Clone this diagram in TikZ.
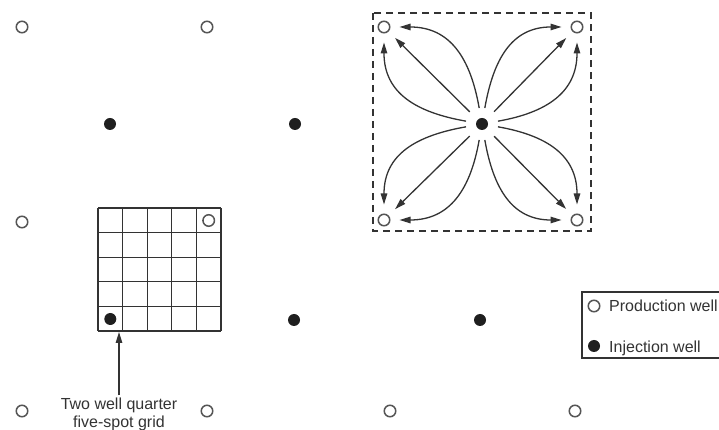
\documentclass[tikz,border=0pt]{standalone}
\usepackage{fontspec}
\setmainfont{Liberation Sans}
\usetikzlibrary{arrows.meta}
\definecolor{ink}{HTML}{333333}
\definecolor{rim}{HTML}{555555}
\tikzset{
  prod/.style={circle, draw=rim, line width=1.5pt, fill=white, minimum size=11.5pt, inner sep=0pt},
  inj/.style={circle, fill=black!88, minimum size=12pt, inner sep=0pt},
  flow/.style={draw=ink, line width=1.3pt, -{Triangle[length=11pt,width=6.5pt]}, shorten >=9pt},
  lbl/.style={text=ink, font=\fontsize{16}{18}\selectfont, inner sep=0pt},
  gridline/.style={draw=ink, line width=1.3pt}
}
\begin{document}
\begin{tikzpicture}[x=1pt,y=1pt]
\useasboundingbox (0,0) rectangle (719,430);
% production wells
\node[prod] (p11) at (22,403) {};
\node[prod] (p12) at (207,403) {};
\node[prod] (p21) at (22,208) {};
\node[prod] (p31) at (22,19) {};
\node[prod] (p32) at (207,19) {};
\node[prod] (p33) at (390,19) {};
\node[prod] (p34) at (575,19) {};
% injection wells
\node[inj] (i11) at (110,306) {};
\node[inj] (i12) at (295,306) {};
\node[inj] (i22) at (294,110) {};
\node[inj] (i23) at (480,110) {};
% five-spot pattern
\node[inj] (C) at (482,306) {};
\node[prod] (TL) at (384,403) {};
\node[prod] (TR) at (577,403) {};
\node[prod] (BL) at (384,210) {};
\node[prod] (BR) at (577,210) {};
\draw[draw=ink, line width=1.2pt, dash pattern=on 7pt off 5pt] (373,417) rectangle (591,199);
\foreach \k/\a/\b/\c/\d in {TL/100/0/170/270, TR/80/180/10/270, BL/260/0/190/90, BR/280/180/350/90}{
  \draw[flow, shorten <=11pt] (C) -- (\k);
  \draw[flow, shorten <=10pt, looseness=1.2] (C) to[out=\a,in=\b] (\k);
  \draw[flow, shorten <=10pt, looseness=1.2] (C) to[out=\c,in=\d] (\k);
}
% quarter five-spot grid
\foreach \i in {0,...,5}{
  \draw[gridline] (98+24.6*\i,99) -- (98+24.6*\i,222);
  \draw[gridline] (98,99+24.6*\i) -- (221,99+24.6*\i);
}
\node[prod] (gp) at (208.7,209.5) {};
\node[inj] (gi) at (110.3,111) {};
\node[lbl, anchor=base] (t1) at (119,20) {Two well quarter};
\node[lbl, anchor=base] (t2) at (119,2) {five-spot grid};
\draw[draw=ink, line width=1.3pt, -{Triangle[length=11pt,width=6.5pt]}] (t1.north) ++(0,3) -- (119,98);
% legend
\draw[draw=ink, line width=1.2pt] (582,72) rectangle (740,138);
\node[prod] (lp) at (594,124) {};
\node[inj] (li) at (594,84) {};
\node[lbl, anchor=west] (lpt) at (609,124) {Production well};
\node[lbl, anchor=west] (lit) at (609,82) {Injection well};
\end{tikzpicture}
\end{document}
